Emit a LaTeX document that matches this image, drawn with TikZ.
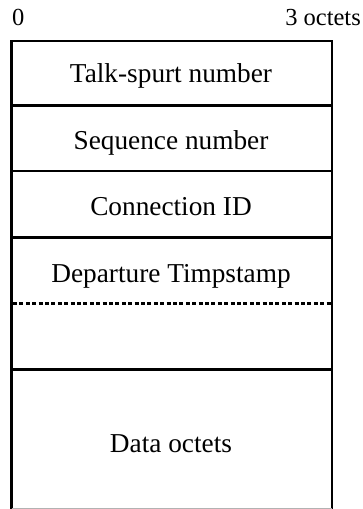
\documentclass[tikz,border=0pt]{standalone}
\usepackage{fontspec}
\setmainfont{Liberation Serif}
\begin{document}
\begin{tikzpicture}[x=1pt,y=-1pt,
  field/.style={anchor=base,inner sep=0pt,font=\fontsize{27.3}{30}\selectfont},
  toplabel/.style={anchor=base,inner sep=0pt,font=\fontsize{24.5}{28}\selectfont},
  rule/.style={line width=2.8pt,line cap=rect},
  dotrule/.style={line width=3pt,dash pattern=on 4pt off 2.4pt},
  side/.style={line width=2.8pt}]
\useasboundingbox (0,0) rectangle (363,509);
% labels
\node[toplabel,anchor=base west] (zero) at (12,25) {0};
\node[toplabel,anchor=base east] (three) at (361,25) {3 octets};
% frame
\coordinate (tl) at (11.7,41);
\coordinate (tr) at (332,41);
\coordinate (bl) at (11.7,509);
\coordinate (br) at (332,509);
\draw[side] (tl) -- (bl);
\draw[side] (tr) -- (br);
\draw[rule] (tl) -- (tr);
\draw[rule] (11.7,105.5) -- (332,105.5);
\draw[rule] (11.7,171) -- (332,171);
\draw[rule] (11.7,237.5) -- (332,237.5);
\draw[dotrule] (13,303.5) -- (332,303.5);
\draw[rule] (11.7,369.5) -- (332,369.5);
\draw[gray!60,line width=1pt] (11.7,508.3) -- (332,508.3);
% fields
\node[field] (ts) at (171,82) {Talk-spurt number};
\node[field] (sn) at (171,149) {Sequence number};
\node[field] (cid) at (171,215) {Connection ID};
\node[field] (dt) at (171,282) {Departure Timpstamp};
\node[field] (data) at (171,452.5) {Data octets};
\end{tikzpicture}
\end{document}
